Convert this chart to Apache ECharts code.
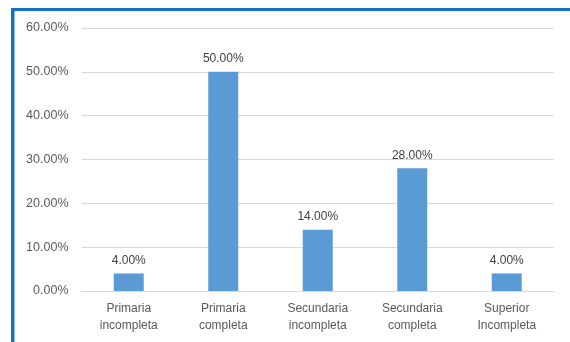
<!DOCTYPE html>
<html>
<head>
<meta charset="utf-8">
<script src="https://cdn.jsdelivr.net/npm/echarts@6/dist/echarts.min.js"></script>
<style>
  html, body { margin: 0; padding: 0; background: #fff; }
  #chart { width: 570px; height: 342px; }
</style>
</head>
<body>
<div id="chart"></div>
<script>
// Education level categories and their shares (percent)
const categories = [
  'Primaria\nincompleta',
  'Primaria\ncompleta',
  'Secundaria\nincompleta',
  'Secundaria\ncompleta',
  'Superior\nIncompleta'
];
const shares = [4, 50, 14, 28, 4];
const yTicks = [0, 10, 20, 30, 40, 50, 60];

const FONT = '"Liberation Sans", Arial, sans-serif';
const chart = echarts.init(document.getElementById('chart'), null, { renderer: 'canvas' });

chart.setOption({
  animation: false,
  backgroundColor: '#ffffff',
  grid: { left: 81.5, right: 16, top: 28, bottom: 51, containLabel: false },
  graphic: [
    // blue frame on the top and left edges
    { type: 'rect', shape: { x: 11, y: 8, width: 570, height: 3 }, style: { fill: '#1570c4' } },
    { type: 'rect', shape: { x: 11, y: 8, width: 3.5, height: 340 }, style: { fill: '#1570c4' } }
  ],
  xAxis: {
    type: 'category',
    data: categories,
    axisLine: { show: true, lineStyle: { color: '#d9d9d9', width: 1 } },
    axisTick: { show: false },
    axisLabel: {
      color: '#595959', fontFamily: FONT, fontSize: 12, lineHeight: 17, margin: 9
    }
  },
  yAxis: {
    type: 'value',
    min: yTicks[0],
    max: yTicks[yTicks.length - 1],
    interval: 10,
    axisLine: { show: false },
    axisTick: { show: false },
    splitLine: { lineStyle: { color: '#d9d9d9', width: 1 } },
    axisLabel: {
      color: '#595959', fontFamily: FONT, fontSize: 12.5, margin: 13,
      formatter: v => v.toFixed(2) + '%'
    }
  },
  series: [{
    type: 'bar',
    data: shares,
    barWidth: 30,
    itemStyle: { color: '#5b9bd5' },
    label: {
      show: true, position: 'top', distance: 7,
      color: '#404040', fontFamily: FONT, fontSize: 12,
      formatter: p => p.value.toFixed(2) + '%'
    }
  }]
});
</script>
</body>
</html>
